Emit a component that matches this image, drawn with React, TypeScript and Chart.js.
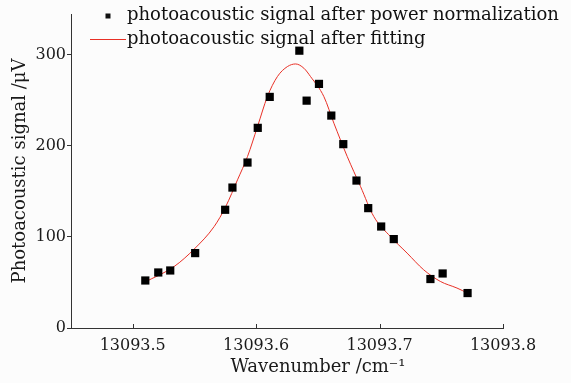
import React, { useEffect, useRef } from "react";
import { Chart, registerables } from "chart.js";

Chart.register(...registerables);

const scatterX = [
  13093.5102, 13093.5207, 13093.5304, 13093.5506, 13093.5749, 13093.5808, 13093.593,
  13093.6013, 13093.611, 13093.635, 13093.6409, 13093.6509, 13093.6609, 13093.6706,
  13093.6813, 13093.6908, 13093.7013, 13093.7115, 13093.7412, 13093.7511, 13093.7713,
];
const scatterY = [
  52.2, 61.0, 63.2, 82.3, 129.9, 154.3, 181.8, 219.9, 253.9, 304.7, 249.8, 268.2, 233.4,
  202.0, 162.0, 131.7, 111.5, 97.7, 53.8, 59.9, 38.4,
];
const fitX = [
  13093.5094, 13093.5336, 13093.5498, 13093.566, 13093.5754, 13093.5849, 13093.593,
  13093.6011, 13093.6091, 13093.6172, 13093.6253, 13093.632, 13093.6387, 13093.6441,
  13093.6549, 13093.663, 13093.6738, 13093.6846, 13093.6953, 13093.7088, 13093.7223,
  13093.7357, 13093.7492, 13093.7627, 13093.7713,
];
const fitY = [
  50.1, 67.6, 86.7, 111.5, 133.5, 162.8, 188.4, 221.3, 254.2, 276.2, 287.2, 290.1, 285.4,
  276.2, 254.2, 225.0, 188.4, 155.4, 122.5, 100.5, 82.3, 64.0, 51.2, 43.9, 38.4,
];
const xTicks = [13093.5, 13093.6, 13093.7, 13093.8];
const yTicks = [0, 100, 200, 300];
const legendLabels = [
  "photoacoustic signal after power normalization",
  "photoacoustic signal after fitting",
];
const xTitle = "Wavenumber /cm\u207B\u00B9";
const yTitle = "Photoacoustic signal /\u03BCV";

const FONT = "'DejaVu Serif', serif";
const AXIS = "#333333";
const RED = "rgb(232,48,38)";

export default function App() {
  const ref = useRef<HTMLCanvasElement | null>(null);
  useEffect(() => {
    if (!ref.current) return;
    const overlay = {
      id: "overlay",
      afterDraw(chart: any) {
        const ctx = chart.ctx;
        const xs = chart.scales.x;
        const area = chart.chartArea;
        ctx.save();
        // inward x ticks
        ctx.strokeStyle = AXIS;
        ctx.lineWidth = 1;
        xTicks.forEach((v) => {
          const px = Math.round(xs.getPixelForValue(v)) + 0.5;
          ctx.beginPath();
          ctx.moveTo(px, area.bottom);
          ctx.lineTo(px, area.bottom - 4);
          ctx.stroke();
        });
        // titles
        ctx.fillStyle = "#1a1a1a";
        ctx.font = `18px ${FONT}`;
        ctx.textAlign = "center";
        ctx.textBaseline = "middle";
        ctx.fillText(xTitle, 318, 367);
        ctx.save();
        ctx.translate(20, 171);
        ctx.rotate(-Math.PI / 2);
        ctx.fillText(yTitle, 0, 0);
        ctx.restore();
        // legend
        ctx.textAlign = "left";
        ctx.fillStyle = "#111";
        ctx.fillRect(105.5, 13.5, 5, 5);
        ctx.fillText(legendLabels[0], 127, 15.5);
        ctx.strokeStyle = RED;
        ctx.beginPath();
        ctx.moveTo(90, 39.5);
        ctx.lineTo(126, 39.5);
        ctx.stroke();
        ctx.fillStyle = "#111";
        ctx.fillText(legendLabels[1], 127, 39);
        ctx.restore();
      },
    };
    const chart = new Chart(ref.current, {
      type: "scatter",
      data: {
        datasets: [
          {
            label: legendLabels[1],
            data: fitX.map((x, i) => ({ x, y: fitY[i] })),
            showLine: true,
            borderColor: RED,
            borderWidth: 1,
            pointRadius: 0,
            cubicInterpolationMode: "monotone",
            order: 2,
          },
          {
            label: legendLabels[0],
            data: scatterX.map((x, i) => ({ x, y: scatterY[i] })),
            showLine: false,
            pointStyle: "rect",
            pointRadius: 5.8,
            backgroundColor: "#000",
            borderColor: "#000",
            borderWidth: 0,
            order: 1,
          },
        ],
      },
      options: {
        animation: false,
        responsive: false,
        layout: { padding: { top: 14, right: 68, left: 0, bottom: 0 } },
        plugins: { legend: { display: false }, tooltip: { enabled: false } },
        scales: {
          x: {
            type: "linear",
            min: 13093.45,
            max: 13093.8,
            afterBuildTicks: (s: any) => {
              s.ticks = xTicks.map((v) => ({ value: v }));
            },
            afterFit: (s: any) => {
              s.height = 55;
            },
            grid: { display: false },
            border: { display: true, color: AXIS, width: 1 },
            ticks: {
              padding: 0,
              color: "#1a1a1a",
              font: { family: FONT, size: 16 },
              maxRotation: 0,
              callback: (v: any) => Number(v).toFixed(1),
            },
          },
          y: {
            min: 0,
            max: 345,
            afterBuildTicks: (s: any) => {
              s.ticks = yTicks.map((v) => ({ value: v }));
            },
            afterFit: (s: any) => {
              s.width = 71;
            },
            grid: { display: true, drawOnChartArea: false, tickLength: 4, color: AXIS },
            border: { display: true, color: AXIS, width: 1 },
            ticks: {
              padding: 1,
              color: "#1a1a1a",
              font: { family: FONT, size: 16 },
            },
          },
        },
      },
      plugins: [overlay],
    } as any);
    return () => chart.destroy();
  }, []);
  return (
    <div style={{ position: "fixed", left: 0, top: 0, width: 571, height: 383, background: "#fcfcfc" }}>
      <canvas ref={ref} width={571} height={383} style={{ width: 571, height: 383 }} />
    </div>
  );
}
